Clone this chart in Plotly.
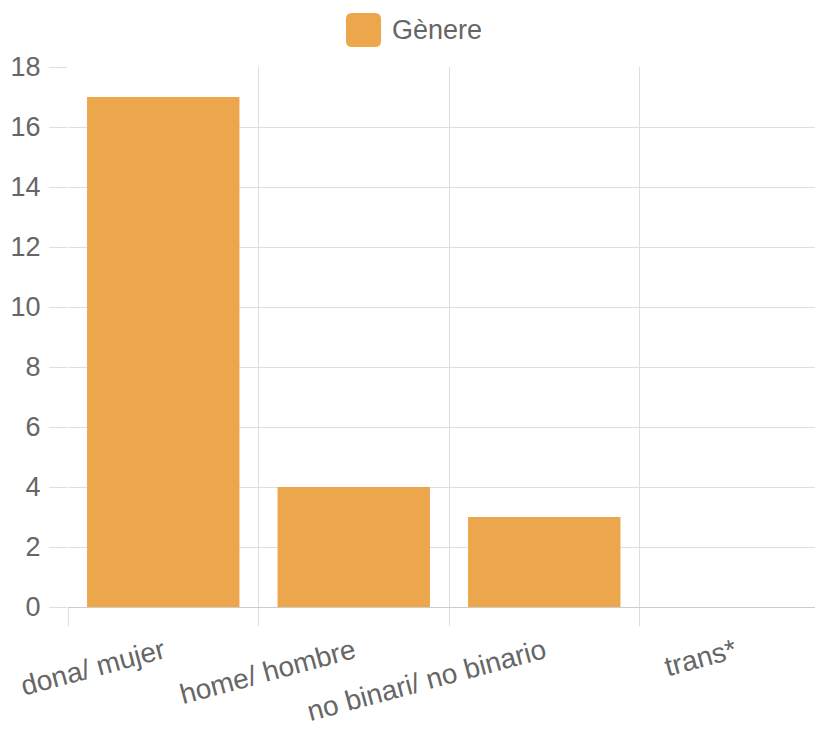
import plotly.graph_objects as go

# ---- data ----
categories = ["dona/ mujer", "home/ hombre", "no binari/ no binario", "trans*"]
values = [17, 4, 3, 0]
series_name = "Gènere"
y_ticks = [0, 2, 4, 6, 8, 10, 12, 14, 16, 18]

# ---- style ----
BAR_COLOR = "rgb(236,166,76)"
GRID = "#dedede"
TEXT = "#666666"
FONT = "Liberation Sans, Arial, Helvetica, sans-serif"
OFF = 8  # page body margin
W, H = 823 - OFF, 738 - 2 * OFF
ML, MR, MT = 68 - OFF, 0, 67 - OFF
MB = H - (607 - OFF)
plot_w = W - ML - MR
plot_h = H - MT - MB
# category slot ~190.5px; plot is clipped on the right like the original
x_hi = -0.5 + plot_w / 190.5
boundaries = [i - 0.5 for i in range(len(categories) + 1)]

fig = go.Figure()
fig.add_trace(go.Bar(
    x=categories, y=values, name=series_name,
    marker=dict(color=BAR_COLOR, line=dict(width=0)),
    width=0.8, showlegend=False, hoverinfo="x+y",
))
# invisible trace to carry the boundary grid axis
fig.add_trace(go.Scatter(x=[boundaries[0]], y=[0], xaxis="x2", mode="markers",
                         marker=dict(opacity=0), showlegend=False, hoverinfo="skip"))

fig.update_layout(
    width=W, height=H,
    margin=dict(l=ML, r=MR, t=MT, b=MB, pad=0),
    paper_bgcolor="white", plot_bgcolor="white",
    font=dict(family=FONT, size=27, color=TEXT),
    showlegend=False,
    bargap=0.2,
    xaxis=dict(
        type="category", range=[-0.5, x_hi],
        showgrid=False, zeroline=False, showline=False,
        ticks="", tickangle=-15,
        tickfont=dict(size=28, color=TEXT, family=FONT),
        ticklabelstandoff=22,
    ),
    xaxis2=dict(
        overlaying="x", anchor="y", side="bottom",
        range=[-0.5, x_hi],
        tickmode="array", tickvals=boundaries,
        showticklabels=False, showgrid=True, gridcolor=GRID, gridwidth=1,
        ticks="outside", ticklen=18, tickcolor=GRID, tickwidth=1,
        zeroline=False, showline=False,
    ),
    yaxis=dict(
        range=[0, 18], tickmode="array", tickvals=y_ticks,
        showgrid=True, gridcolor=GRID, gridwidth=1,
        ticks="outside", ticklen=18, tickcolor=GRID, tickwidth=1,
        zeroline=True, zerolinecolor="#cccccc", zerolinewidth=1,
        showline=False,
        tickfont=dict(size=27, color=TEXT, family=FONT),
        ticklabelstandoff=3,
    ),
)

# legend drawn manually (large rounded box like the original)
leg_y = 1 + 37 / plot_h
box_x = (363.5 - 68) / plot_w
hw, hh, r = 17.5, 17, 6
path = (f"M {-hw + r},{-hh} L {hw - r},{-hh} Q {hw},{-hh} {hw},{-hh + r} "
        f"L {hw},{hh - r} Q {hw},{hh} {hw - r},{hh} L {-hw + r},{hh} "
        f"Q {-hw},{hh} {-hw},{hh - r} L {-hw},{-hh + r} Q {-hw},{-hh} {-hw + r},{-hh} Z")
fig.add_shape(type="path", path=path, xref="paper", yref="paper",
              xsizemode="pixel", ysizemode="pixel", xanchor=box_x, yanchor=leg_y,
              fillcolor=BAR_COLOR, line=dict(width=0))
fig.add_annotation(text=series_name, xref="paper", yref="paper",
                   x=(390 - 68) / plot_w, y=leg_y, xanchor="left", yanchor="middle",
                   showarrow=False, font=dict(size=27, color=TEXT, family=FONT))

fig.write_html("out.html")
